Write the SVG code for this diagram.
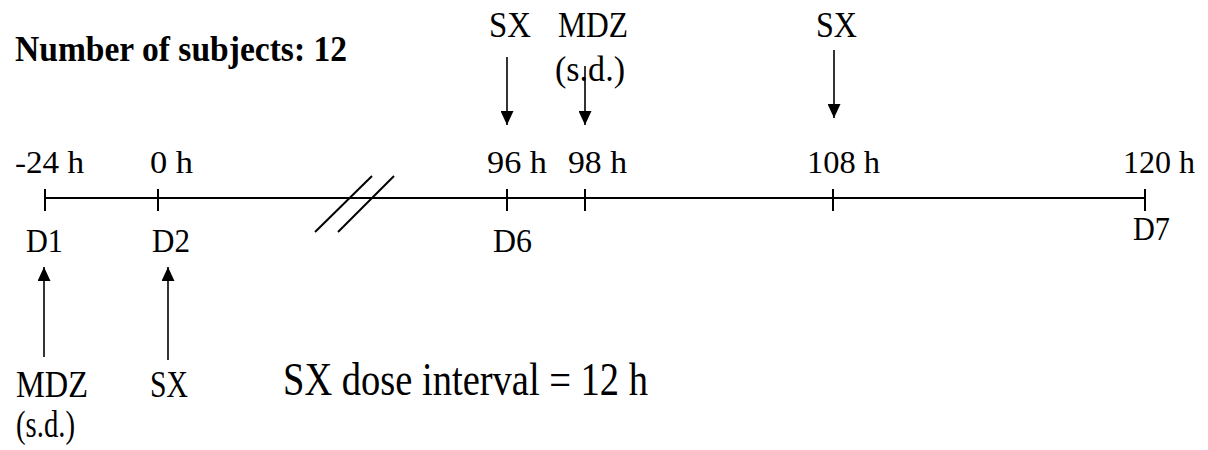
<svg xmlns="http://www.w3.org/2000/svg" width="1208" height="450" viewBox="0 0 1208 450">
<style>
text{font-family:"Liberation Serif","Times New Roman",serif;fill:#000}
.title{font-weight:bold;font-size:35px}
.tk{font-size:32px}
.d{font-size:34px}
.lab{font-size:35px}
.low{font-size:37px}
.big{font-size:46px}
.ln{stroke:#000;stroke-width:2;fill:none}
.thin{stroke:#000;stroke-width:1.6;fill:none}
</style>
<defs>
<marker id="ah" viewBox="0 0 14 13" refX="14" refY="6.5" markerWidth="14" markerHeight="13" markerUnits="userSpaceOnUse" orient="auto">
<path d="M0,0 L14,6.5 L0,13 Z" fill="#000"/>
</marker>
</defs>
<rect width="1208" height="450" fill="#fff"/>
<g id="title"><text class="title" x="15" y="61" textLength="332" lengthAdjust="spacingAndGlyphs">Number of subjects: 12</text></g>
<g id="connectors">
<line class="ln" x1="45" y1="198" x2="1145" y2="198"/>
<line class="ln" x1="45" y1="189" x2="45" y2="211"/>
<line class="ln" x1="158" y1="189" x2="158" y2="211"/>
<line class="ln" x1="507" y1="189" x2="507" y2="211"/>
<line class="ln" x1="585" y1="189" x2="585" y2="211"/>
<line class="ln" x1="833" y1="189" x2="833" y2="211"/>
<line class="ln" x1="1145" y1="189" x2="1145" y2="211"/>
<line class="ln" x1="315" y1="232" x2="372" y2="176"/>
<line class="ln" x1="338" y1="232" x2="394" y2="176"/>
<line class="thin" x1="507" y1="57" x2="507" y2="125" marker-end="url(#ah)"/>
<line class="thin" x1="585" y1="66" x2="585" y2="125" marker-end="url(#ah)"/>
<line class="thin" x1="834" y1="50" x2="834" y2="118" marker-end="url(#ah)"/>
<line class="thin" x1="44" y1="357" x2="44" y2="267" marker-end="url(#ah)"/>
<line class="thin" x1="168" y1="360" x2="168" y2="267" marker-end="url(#ah)"/>
</g>
<g id="t-m24"><text class="tk" x="15" y="173" textLength="69" lengthAdjust="spacingAndGlyphs">-24 h</text><text class="d" x="26" y="252" textLength="37" lengthAdjust="spacingAndGlyphs">D1</text></g>
<g id="t-0"><text class="tk" x="150" y="173" textLength="43" lengthAdjust="spacingAndGlyphs">0 h</text><text class="d" x="152" y="252" textLength="38" lengthAdjust="spacingAndGlyphs">D2</text></g>
<g id="t-96"><text class="tk" x="487" y="173" textLength="60" lengthAdjust="spacingAndGlyphs">96 h</text><text class="d" x="493" y="252" textLength="39" lengthAdjust="spacingAndGlyphs">D6</text></g>
<g id="t-98"><text class="tk" x="568" y="173" textLength="59" lengthAdjust="spacingAndGlyphs">98 h</text></g>
<g id="t-108"><text class="tk" x="807" y="173" textLength="73" lengthAdjust="spacingAndGlyphs">108 h</text></g>
<g id="t-120"><text class="tk" x="1123" y="173" textLength="72" lengthAdjust="spacingAndGlyphs">120 h</text><text class="d" x="1133" y="240" textLength="37" lengthAdjust="spacingAndGlyphs">D7</text></g>
<g id="dose-sx96"><text class="lab" x="489" y="37" textLength="42" lengthAdjust="spacingAndGlyphs">SX</text></g>
<g id="dose-mdz98"><text class="lab" x="558" y="37" textLength="70" lengthAdjust="spacingAndGlyphs">MDZ</text><text class="lab" x="555" y="81" textLength="70" lengthAdjust="spacingAndGlyphs">(s.d.)</text></g>
<g id="dose-sx108"><text class="lab" x="816" y="37" textLength="41" lengthAdjust="spacingAndGlyphs">SX</text></g>
<g id="dose-mdz"><text class="low" x="16" y="397" textLength="72" lengthAdjust="spacingAndGlyphs">MDZ</text><text class="low" x="16" y="437" textLength="59" lengthAdjust="spacingAndGlyphs">(s.d.)</text></g>
<g id="dose-sx0"><text class="low" x="150" y="397" textLength="38" lengthAdjust="spacingAndGlyphs">SX</text></g>
<g id="note"><text class="big" x="283" y="395" textLength="365" lengthAdjust="spacingAndGlyphs">SX dose interval = 12 h</text></g>
</svg>
